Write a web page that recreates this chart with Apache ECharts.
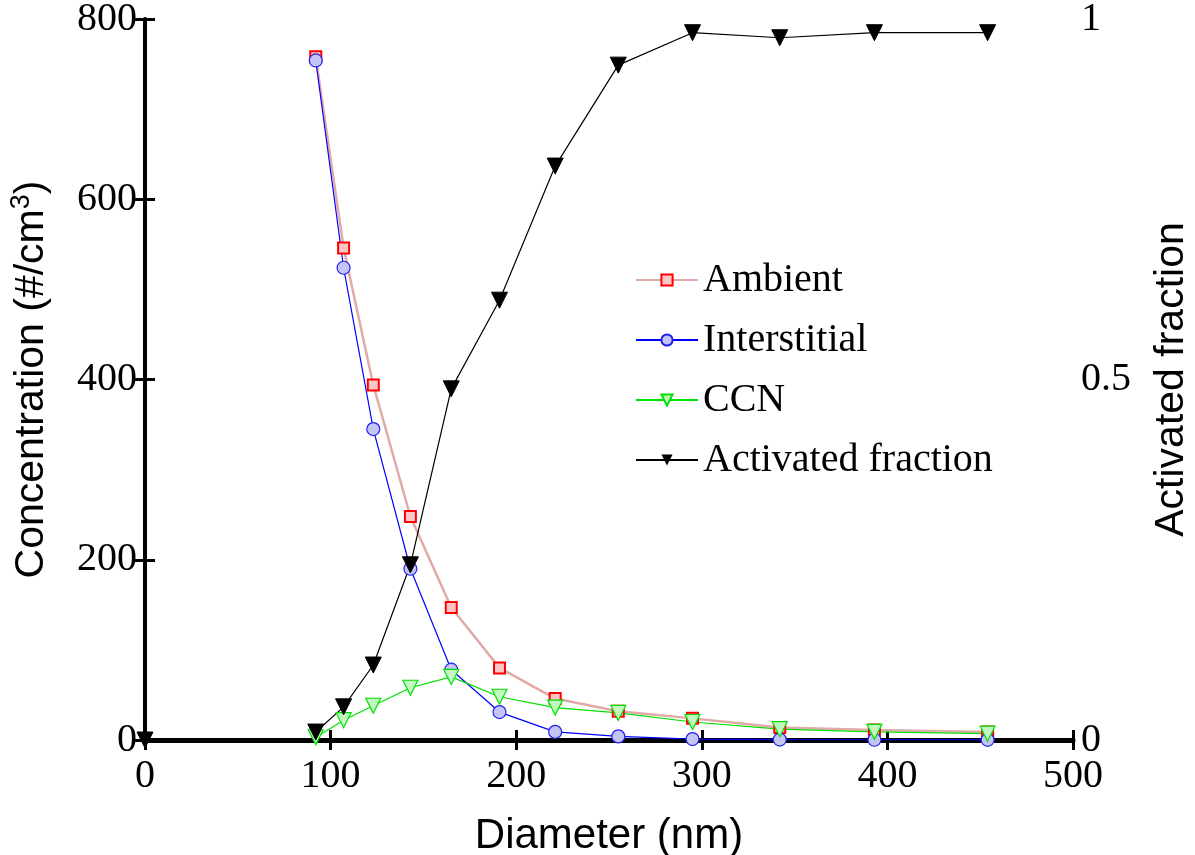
<!DOCTYPE html>
<html>
<head>
<meta charset="utf-8">
<script src="https://cdn.jsdelivr.net/npm/echarts@6/dist/echarts.min.js"></script>
<style>
  html, body { margin: 0; padding: 0; background: #fff; }
  #chart { width: 1195px; height: 855px; }
</style>
</head>
<body>
<div id="chart"></div>
<script>
// diameters (nm) of the size bins
const diameters = [92, 107, 123, 143, 165, 191, 221, 255, 295, 342, 393, 454];
// concentrations (#/cm3)
const ambient = [758, 546, 394, 248, 147, 80, 46, 32, 24, 14, 11, 9];
const interstitial = [754, 524, 345, 190, 78, 31, 9, 4, 1, 0.5, 0.3, 0.2];
const ccn = [3, 22, 38, 58, 70, 48, 36, 30, 20, 12, 9, 7];
// activated fraction (right axis)
const activated = [0.011, 0.046, 0.104, 0.243, 0.487, 0.61, 0.796, 0.936, 0.981, 0.974, 0.981, 0.981];
const rightLabels = [0, 0.5, 1];

const pairs = (ys) => diameters.map((d, i) => [d, ys[i]]);

const chart = echarts.init(document.getElementById('chart'));

const serif = 'Liberation Serif, Times New Roman, serif';
const sans = 'Liberation Sans, Arial, sans-serif';

const option = {
  backgroundColor: '#fff',
  animation: false,
  grid: { left: 145, right: 122, top: 19, bottom: 115, containLabel: false, outerBoundsMode: 'none' },
  legend: {
    orient: 'vertical',
    left: 630,
    top: 255,
    itemWidth: 62,
    itemHeight: 14,
    itemGap: 20,
    textStyle: { fontFamily: serif, fontSize: 40, color: '#000' },
    data: ['Ambient', 'Interstitial', 'CCN', 'Activated fraction']
  },
  xAxis: [
    {
      type: 'value',
      min: 0, max: 500, interval: 100,
      name: 'Diameter (nm)',
      nameLocation: 'middle',
      nameGap: 75,
      nameTextStyle: { fontFamily: sans, fontSize: 42, color: '#000' },
      axisLine: { lineStyle: { color: '#000', width: 5 } },
      axisTick: { inside: true, length: 10, lineStyle: { color: '#000', width: 3 } },
      axisLabel: { fontFamily: serif, fontSize: 40, color: '#000', margin: 16 },
      splitLine: { show: false }
    },
    {
      type: 'value',
      position: 'top',
      min: 0, max: 500, interval: 100,
      axisLine: { lineStyle: { color: '#000', width: 3 } },
      axisTick: { inside: true, length: 10, lineStyle: { color: '#000', width: 3 } },
      axisLabel: { show: false },
      splitLine: { show: false }
    }
  ],
  yAxis: [
    {
      type: 'value',
      min: 0, max: 800, interval: 200,
      name: '{t|Concentration (#/cm}{s|3}{t|)}',
      nameLocation: 'middle',
      nameGap: 90,
      nameTextStyle: {
        rich: {
          t: { fontFamily: sans, fontSize: 41, color: '#000' },
          s: { fontFamily: sans, fontSize: 27, color: '#000', verticalAlign: 'top', padding: [0, 0, 20, 0] }
        }
      },
      axisLine: { lineStyle: { color: '#000', width: 4 } },
      axisTick: { inside: true, length: 10, lineStyle: { color: '#000', width: 3 } },
      axisLabel: { fontFamily: serif, fontSize: 40, color: '#000', margin: 8 },
      splitLine: { show: false }
    },
    {
      type: 'value',
      min: 0, max: 1, interval: 0.25,
      name: 'Activated fraction',
      nameLocation: 'middle',
      nameGap: 78,
      nameRotate: 90,
      nameTextStyle: { fontFamily: sans, fontSize: 41, color: '#000' },
      axisLine: { lineStyle: { color: '#000', width: 3 } },
      axisTick: { inside: true, length: 10, lineStyle: { color: '#000', width: 3 } },
      axisLabel: {
        fontFamily: serif, fontSize: 40, color: '#000', margin: 8,
        formatter: (v) => (rightLabels.includes(v) ? String(v) : '')
      },
      splitLine: { show: false }
    }
  ],
  series: [
    {
      name: 'Ambient',
      type: 'line',
      data: pairs(ambient),
      symbol: 'rect',
      symbolSize: 11,
      lineStyle: { color: '#e2a9a9', width: 2.5 },
      itemStyle: { color: '#f9c7c7', borderColor: '#ff0000', borderWidth: 2 }
    },
    {
      name: 'Interstitial',
      type: 'line',
      data: pairs(interstitial),
      symbol: 'circle',
      symbolSize: 13,
      lineStyle: { color: '#0000ff', width: 1.2 },
      itemStyle: { color: '#c4c4f6', borderColor: '#2222ee', borderWidth: 1.2 }
    },
    {
      name: 'CCN',
      type: 'line',
      data: pairs(ccn),
      symbol: 'triangle',
      symbolRotate: 180,
      symbolSize: 15,
      lineStyle: { color: '#00e000', width: 1.2 },
      itemStyle: { color: '#c2f7c2', borderColor: '#00e000', borderWidth: 1.2 }
    },
    {
      name: 'Activated fraction',
      type: 'line',
      yAxisIndex: 1,
      data: [[0, 0], [50, '-']].concat(pairs(activated)),
      symbol: 'triangle',
      symbolRotate: 180,
      symbolSize: 16,
      lineStyle: { color: '#000', width: 1.2 },
      itemStyle: { color: '#000', borderColor: '#000' }
    }
  ]
};

chart.setOption(option);
</script>
</body>
</html>
